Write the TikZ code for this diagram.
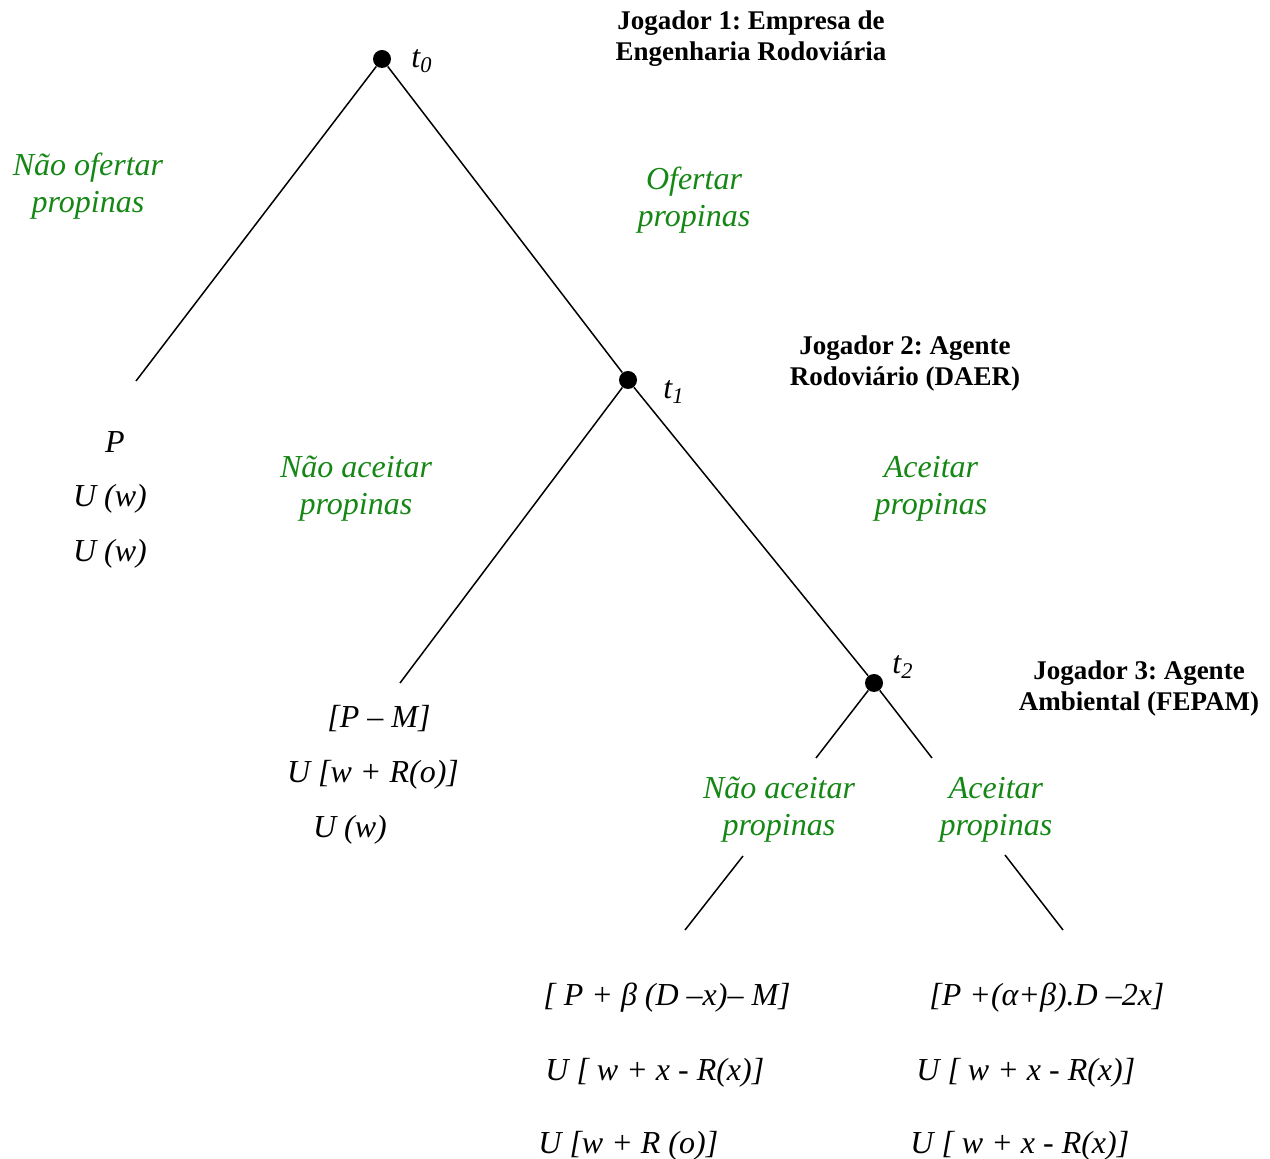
\documentclass[tikz,border=0pt]{standalone}
\usepackage{fontspec}
\setmainfont{Liberation Serif}
\frenchspacing
\definecolor{actgreen}{RGB}{20,135,20}
\begin{document}
\begin{tikzpicture}[x=0.5pt,y=-0.5pt,
  dotnode/.style={circle,fill=black,inner sep=0pt,minimum size=9pt},
  branch/.style={line width=0.75pt},
  act/.style={font=\fontsize{16}{18.5}\selectfont\itshape,text=actgreen,align=center,inner sep=0pt},
  player/.style={font=\fontsize{13.5}{15.5}\selectfont\bfseries,align=center,inner sep=0pt},
  pay/.style={font=\fontsize{16}{18}\selectfont\itshape,inner sep=0pt},
  tlab/.style={font=\fontsize{16}{18}\selectfont\itshape,inner sep=0pt}]
\useasboundingbox (0,0) rectangle (1270,1159);
% decision nodes
\node[dotnode] (n0) at (382,59) {};
\node[dotnode] (n1) at (628,380) {};
\node[dotnode] (n2) at (874,683) {};
% branch ends
\coordinate (e0) at (136,381);
\coordinate (e1) at (400,683);
\coordinate (e2a) at (816,758);
\coordinate (e2b) at (932,758);
\coordinate (s1a) at (743,856);
\coordinate (s1b) at (685,930);
\coordinate (s2a) at (1005,855);
\coordinate (s2b) at (1063,930);
% branches
\draw[branch] (n0) -- (e0);
\draw[branch] (n0) -- (n1);
\draw[branch] (n1) -- (e1);
\draw[branch] (n1) -- (n2);
\draw[branch] (n2) -- (e2a);
\draw[branch] (n2) -- (e2b);
\draw[branch] (s1a) -- (s1b);
\draw[branch] (s2a) -- (s2b);
% time labels
\node[tlab] (t0) at (422,61) {t\textsubscript{0}};
\node[tlab] (t1) at (674,392) {t\textsubscript{1}};
\node[tlab] (t2) at (903,667) {t\textsubscript{2}};
% players
\node[player] (p1) at (751,39) {Jogador 1: Empresa de\\Engenharia Rodoviária};
\node[player] (p2) at (905,364) {Jogador 2: Agente\\Rodoviário (DAER)};
\node[player] (p3) at (1139,689) {Jogador 3: Agente\\Ambiental (FEPAM)};
% actions
\node[act] (a1) at (88,186) {Não ofertar\\propinas};
\node[act] (a2) at (694,200) {Ofertar\\propinas};
\node[act] (a3) at (356,489) {Não aceitar\\propinas};
\node[act] (a4) at (931,489) {Aceitar\\propinas};
\node[act] (a5) at (779,810) {Não aceitar\\propinas};
\node[act] (a6) at (996,810) {Aceitar\\propinas};
% payoffs
\node[pay] (q1) at (115,442) {P};
\node[pay] (q2) at (110,499) {U (w)};
\node[pay] (q3) at (110,554) {U (w)};
\node[pay] (r1) at (379,719) {[P – M]};
\node[pay] (r2) at (373,775) {U [w + R(o)]};
\node[pay] (r3) at (350,830) {U (w)};
\node[pay,anchor=west] (u1) at (543,998) {[ P + β (D –x)– M]};
\node[pay,anchor=west] (u2) at (545,1073) {U [ w + x - R(x)]};
\node[pay,anchor=west] (u3) at (538,1146) {U [w + R (o)]};
\node[pay,anchor=west] (v1) at (929,998) {[P +(α+β).D –2x]};
\node[pay,anchor=west] (v2) at (916,1073) {U [ w + x - R(x)]};
\node[pay,anchor=west] (v3) at (910,1146) {U [ w + x - R(x)]};
\end{tikzpicture}
\end{document}
